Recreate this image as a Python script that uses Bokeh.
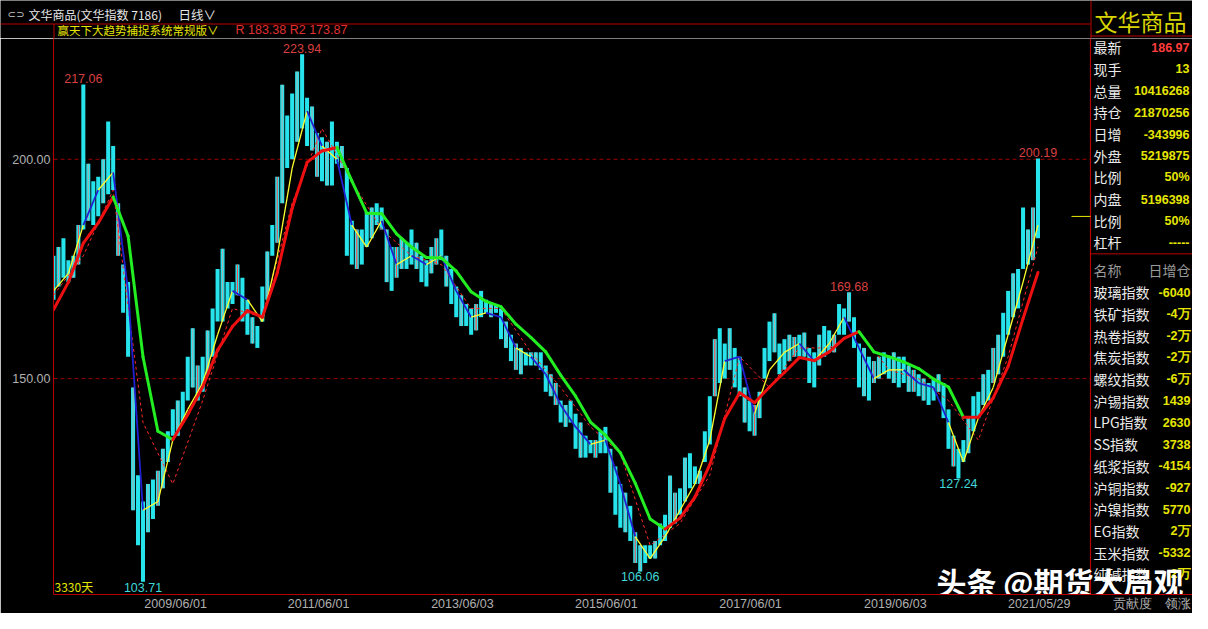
from bokeh.plotting import figure
from bokeh.models import Range1d, FixedTicker, NumeralTickFormatter, Label
from bokeh.layouts import row, column
from bokeh.embed import file_html
from bokeh.resources import INLINE
from bokeh.core.properties import value

CJK = "Noto Sans CJK SC"
NUM = "Liberation Sans"

# ---------------- data ----------------
title_name = "文华商品(文华指数 7186)"
period_name = "日线∨"
system_name = "赢天下大趋势捕捉系统常规版∨"
r_text = "R 183.38  R2 173.87"
days_text = "3330天"
watermark = "头条 @期货大局观"

STEP = 16  # trading days between sampled bars
highs = [178, 180, 182, 177, 178, 185, 217.06, 199, 195, 196,
         200, 208.6, 203, 190, 176, 172, 148, 128, 122, 126,
         127, 129, 134, 138, 143, 145, 147, 155, 161.5, 153,
         155, 161, 166, 175, 179.6, 172, 172, 176, 173, 168,
         164, 162, 171, 179, 185, 196, 217, 210, 215, 220,
         223.94, 214, 212, 206, 205, 204, 208.6, 204, 203, 198,
         186, 184, 184, 188, 189, 190, 189, 184, 180, 180,
         182, 181, 184, 181, 178, 177, 180, 182, 184, 178,
         175, 171, 169, 167, 166, 167, 170, 168, 167, 167,
         166, 163, 160, 158, 157, 156, 156, 156, 156, 153,
         151, 149, 145, 144, 145, 142, 140, 137, 136, 136,
         138, 139, 134, 130, 126, 124, 121, 115, 112, 112,
         112, 113, 117, 119, 127.9, 124, 125, 132, 133, 130,
         129, 138, 146, 159, 161.5, 158, 161.5, 157, 155, 148,
         145, 144, 147, 157, 163, 164.9, 158, 159, 160, 159.5,
         160, 160.5, 157, 156, 160, 162, 161, 160, 167, 166,
         169.68, 164, 158, 157, 155, 154, 155, 156, 155, 156,
         155, 155, 153, 152, 151, 150, 149, 150, 151, 149,
         143, 137, 134, 136, 141, 146, 147, 151, 152, 157,
         160, 165, 170, 174, 175, 189, 184, 189, 200.19]
lows = [168, 171, 173, 172, 173, 176, 184, 186, 185, 187,
        190, 192, 193, 178, 165, 155, 120, 112, 103.71, 115,
        118, 121, 125, 131, 137, 137, 140, 145, 148, 145,
        147, 151, 155, 163, 163, 166, 167, 169, 163, 160,
        158, 157, 163, 168, 178, 181, 190, 198, 200, 204,
        207, 203, 202, 196, 195, 194, 194, 199, 198, 178,
        176, 175, 176, 180, 182, 185, 184, 172, 170, 173,
        175, 175, 176, 175, 172, 171, 174, 176, 177, 171,
        167, 164, 162, 162, 160, 161, 164, 165, 164, 165,
        159, 157, 154, 152, 151, 153, 153, 153, 152, 147,
        146, 144, 140, 139, 140, 134, 132, 132, 133, 132,
        133, 133, 124, 119, 116, 115, 113, 108, 106.06, 108,
        109, 109, 112, 113, 116, 117, 119, 122, 125, 126,
        126, 131, 135, 146, 149, 150, 152, 148, 146, 140,
        138, 137, 141, 150, 154, 156, 151, 152, 154, 155,
        155, 155, 149, 148, 153, 155, 156, 156, 160, 160,
        163, 157, 148, 146, 145, 149, 150, 151, 150, 149,
        148, 149, 147, 147, 146, 145, 144, 145, 147, 141,
        134, 130, 127.24, 131, 133, 138, 141, 144, 145, 149,
        151, 155, 160, 164, 166, 175, 176, 177, 182]
last_close = 186.97

# thick trend line, one point every 3 sampled bars; u = rising (red), d = falling (green)
trend_vals = [165.7, 172.0, 180.9, 185.5, 191.4, 182.5, 155.0, 138.0, 136.1, 141.8,
              148.1, 156.5, 161.9, 165.5, 164.0, 174.1, 188.8, 199.3, 201.9, 202.7,
              195.1, 187.7, 187.6, 183.0, 180.0, 177.6, 177.5, 174.5, 169.8, 167.6,
              166.4, 162.4, 159.4, 156.1, 150.8, 146.0, 140.1, 137.1, 133.1, 126.2,
              118.0, 115.7, 118.2, 123.0, 130.4, 140.9, 146.8, 144.5, 148.1, 151.4,
              154.8, 154.1, 156.1, 159.2, 160.7, 156.1, 155.0, 153.8, 152.3, 149.9,
              148.1, 141.2, 141.2, 145.6, 152.8, 163.7, 174.2]
trend_state = "u" * 5 + "d" * 4 + "u" * 11 + "d" * 22 + "u" * 13 + "d" * 7 + "u" * 5

# fast line (yellow when rising, blue when falling), every 3 sampled bars
fast_vals = [170, 174, 185, 193, 197, 170, 120, 122, 136, 143,
             149, 160, 170, 168, 163, 178, 198, 211, 203, 200,
             185, 180, 186, 176, 178, 176, 178, 170, 164, 165,
             164, 157, 155, 151, 144, 139, 135, 136, 126, 114,
             109, 114, 120, 126, 136, 154, 155, 142, 152, 156,
             158, 154, 158, 164, 157, 150, 152, 152, 149, 148,
             140, 131, 141, 148, 160, 172, 185]
fast_state = "uuududduuu" "uuuduuuudu" "duudududdu" "dduddddudd" "uuuuuudduu" "uduudduudd" "duuuuuu"

# red dashed average, every 6 sampled bars
slow_vals = [169, 178, 193, 140, 126, 145, 166, 164, 190, 207,
             195, 184, 178, 176, 166, 166, 156, 148, 139, 133,
             112, 117, 128, 155, 148, 157, 157, 161, 152, 150,
             145, 136, 155, 180]

tick_days = [393, 853, 1316, 1779, 2243, 2709, 3172]
tick_labels = ["2009/06/01", "2011/06/01", "2013/06/03", "2015/06/01",
               "2017/06/01", "2019/06/03", "2021/05/29"]
price_ticks = [150, 200]

peak_bars = [6, 50, 160, 198]
trough_bars = [18, 118, 182]

quote_title = "文华商品"
quote_labels = ["最新", "现手", "总量", "持仓", "日增", "外盘", "比例", "内盘", "比例", "杠杆"]
quote_values = ["186.97", "13", "10416268", "21870256", "-343996", "5219875", "50%", "5196398", "50%", "-----"]
list_header = ["名称", "日增仓"]
list_names = ["玻璃指数", "铁矿指数", "热卷指数", "焦炭指数", "螺纹指数", "沪锡指数", "LPG指数",
              "SS指数", "纸浆指数", "沪铜指数", "沪镍指数", "EG指数", "玉米指数", "纯碱指数"]
list_values = ["-6040", "-4万", "-2万", "-2万", "-6万", "1439", "2630", "3738", "-4154",
               "-927", "5770", "2万", "-5332", "2万"]
tab_names = ["贡献度", "领涨"]

# ---------------- styling / layout ----------------
RED = "#b80000"
BG = "black"
bar_days = [i * STEP for i in range(len(highs))]
trend_days = bar_days[::3]
slow_days = bar_days[::6]

W = 1192
TOTAL_H = 613
HDR_H = 38
CHART_END = 3337           # day at the chart's right border (x = 1090 px)
PX_PER_DAY = 1037 / CHART_END
X_END = (W - 53) / PX_PER_DAY
Y0 = 100.8
PX_PER_VAL = 573 / 129.9
Y1 = 230.7 - (HDR_H - 24) / PX_PER_VAL


def m(ref_y):
    # reference-pixel y -> canvas y
    if ref_y < 26:
        return ref_y * 24 / 26
    if ref_y <= 604:
        return 24 + (ref_y - 26) * 573 / 578
    return 597 + (ref_y - 604) * 16 / 25


def dx(ref_x):
    return (ref_x - 53) / PX_PER_DAY


def cv(canvas_y):
    return Y1 - (canvas_y - HDR_H) / PX_PER_VAL


def vy(ref_y):
    return cv(m(ref_y))


def base_fig(w, h, xr, yr, **kw):
    f = figure(width=w, height=h, x_range=xr, y_range=yr, output_backend="svg",
               toolbar_location=None, **kw)
    f.background_fill_color = BG
    f.border_fill_color = BG
    f.outline_line_color = None
    f.min_border = 0
    return f


# ---------- header strip (top of chart and of quote panel) ----------
hdr = base_fig(W, HDR_H, Range1d(0, W), Range1d(HDR_H, 0),
               x_axis_location=None, y_axis_location=None)
hdr.grid.visible = False
hdr.text(x=[7], y=[m(15)], text=["⊂⊃"], text_font=value("DejaVu Sans"), text_font_size="10px",
         text_color="#c8c8c8", text_baseline="middle")
hdr.text(x=[28], y=[m(15)], text=[title_name], text_font=value(CJK), text_font_size="12px",
         text_color="#e6e6e6", text_baseline="middle")
hdr.text(x=[178], y=[m(15)], text=[period_name], text_font=value(CJK), text_font_size="12.5px",
         text_color="#e6e6e6", text_baseline="middle")
hdr.segment(x0=[0], y0=[23.5], x1=[1090], y1=[23.5], line_color=RED, line_width=1)
hdr.segment(x0=[53.5, 1090.5], y0=[23.5, 0], x1=[53.5, 1090.5], y1=[HDR_H, HDR_H],
            line_color=RED, line_width=1)
hdr.text(x=[57], y=[m(32)], text=[system_name], text_font=value(CJK), text_font_size="11.5px",
         text_color="#e6e600", text_baseline="middle")
hdr.text(x=[235], y=[m(32)], text=[r_text], text_font=value(NUM), text_font_size="12.5px",
         text_color="#e03030", text_baseline="middle")
hdr.text(x=[1094], y=[m(22)], text=[quote_title], text_font=value(CJK), text_font_size="23px",
         text_color="#d8d400", text_baseline="middle")
hdr.segment(x0=[1090], y0=[round(m(37)) + 0.5], x1=[W], y1=[round(m(37)) + 0.5], line_color=RED, line_width=1)

# ---------- main chart (frame also hosts the quote panel on the right) ----------
p = base_fig(W, TOTAL_H - HDR_H, Range1d(0, X_END), Range1d(Y0, Y1))
p.min_border_left = 53
p.min_border_right = 0
p.min_border_top = 0
p.min_border_bottom = 16
p.grid.visible = False

# date ticks plus the two panel tabs, which sit on the same bottom strip
tab_days = [dx(1132), dx(1177)]
p.xaxis.ticker = FixedTicker(ticks=tick_days + tab_days)
overrides = {d: t for d, t in zip(tick_days, tick_labels)}
overrides.update({d: t for d, t in zip(tab_days, tab_names)})
p.xaxis.major_label_overrides = overrides
p.yaxis.ticker = FixedTicker(ticks=price_ticks)
p.yaxis.formatter = NumeralTickFormatter(format="0.00")
for ax in (p.xaxis[0], p.yaxis[0]):
    ax.axis_line_color = RED
    ax.axis_line_width = 1
    ax.major_tick_line_color = None
    ax.minor_tick_line_color = None
    ax.major_tick_out = 0
    ax.major_tick_in = 0
    ax.minor_tick_out = 0
    ax.minor_tick_in = 0
    ax.major_label_text_color = "#b0b0b0"
    ax.major_label_text_font = NUM
    ax.major_label_text_font_size = "12.5px"
p.xaxis.major_label_standoff = 2
p.yaxis.major_label_standoff = 3

# dashed price levels across the chart area only
p.segment(x0=[0] * len(price_ticks), y0=price_ticks, x1=[CHART_END] * len(price_ticks), y1=price_ticks,
          line_color="#9a0000", line_width=1, line_dash="4 3")
# border between chart and quote panel
p.segment(x0=[CHART_END], y0=[Y0], x1=[CHART_END], y1=[Y1], line_color=RED, line_width=1.2)

# price bars
p.vbar(x=bar_days, bottom=lows, top=highs, width=13, fill_color="#27e3ec", line_color=None)
gx = [d for i, d in enumerate(bar_days) if i % 3 == 1]
gl = [v for i, v in enumerate(lows) if i % 3 == 1]
gh = [v for i, v in enumerate(highs) if i % 3 == 1]
p.segment(x0=gx, y0=gl, x1=gx, y1=gh, line_color="#a9b0b0", line_width=1)
rx = [d for i, d in enumerate(bar_days) if i % 8 == 5]
rl = [v for i, v in enumerate(lows) if i % 8 == 5]
rh = [v for i, v in enumerate(highs) if i % 8 == 5]
p.segment(x0=rx, y0=rl, x1=rx, y1=rh, line_color="#ff4a4a", line_width=1)

# red dashed average
p.line(slow_days, slow_vals, line_color="#ff2a2a", line_width=1, line_dash="3 3")

# fast line
for k in range(1, len(fast_vals)):
    up = fast_state[k] == "u"
    p.segment(x0=[trend_days[k - 1]], y0=[fast_vals[k - 1]], x1=[trend_days[k]], y1=[fast_vals[k]],
              line_color="#ffff30" if up else "#2020d0", line_width=1.3 if up else 1.8)

# thick trend line
for k in range(1, len(trend_vals)):
    col = "#ee1010" if trend_state[k] == "u" else "#22ee22"
    p.segment(x0=[trend_days[k - 1]], y0=[trend_vals[k - 1]], x1=[trend_days[k]], y1=[trend_vals[k]],
              line_color=col, line_width=3, line_cap="round")

# last price marker
p.segment(x0=[dx(1071)], y0=[last_close], x1=[CHART_END], y1=[last_close], line_color="#e8e800", line_width=1)

# extreme labels
for b in peak_bars:
    p.add_layout(Label(x=bar_days[b], y=highs[b], text=f"{highs[b]:.2f}", text_align="center",
                       text_baseline="bottom", text_color="#d84040", text_font=NUM,
                       text_font_size="12.5px", y_offset=1))
for b in trough_bars:
    p.add_layout(Label(x=bar_days[b], y=lows[b], text=f"{lows[b]:.2f}", text_align="center",
                       text_baseline="top", text_color="#40d8d8", text_font=NUM,
                       text_font_size="12.5px", y_offset=-1))
p.add_layout(Label(x=dx(54), y=vy(596), text=days_text, text_baseline="middle",
                   text_color="#e6e600", text_font=CJK, text_font_size="12px"))


# ---- quote panel (inside the same frame, right of the chart) ----
def px(panel_x):
    return dx(1090 + panel_x)


qy = [vy(49 + 22 * k) for k in range(len(quote_labels))]
p.text(x=[px(3)] * len(qy), y=qy, text=quote_labels, text_font=value(CJK), text_font_size="14px",
       text_color="#eaeaea", text_baseline="middle")
qcol = ["#ff3c3c"] + ["#e6e600"] * (len(quote_values) - 1)
p.text(x=[px(99)] * len(qy), y=qy, text=quote_values, text_font=value(NUM), text_font_size="12.5px",
       text_font_style="bold", text_color=qcol, text_align="right", text_baseline="middle")
p.segment(x0=[CHART_END], y0=[cv(round(m(258)) + 0.5)], x1=[X_END], y1=[cv(round(m(258)) + 0.5)],
          line_color=RED, line_width=1)
p.text(x=[px(3)], y=[vy(275)], text=[list_header[0]], text_font=value(CJK), text_font_size="14px",
       text_color="#9a9a9a", text_baseline="middle")
p.text(x=[px(100)], y=[vy(275)], text=[list_header[1]], text_font=value(CJK), text_font_size="14px",
       text_color="#9a9a9a", text_baseline="middle", text_align="right")
ly = [vy(297.5 + 22 * k) for k in range(len(list_names))]
p.text(x=[px(3)] * len(ly), y=ly, text=list_names, text_font=value(CJK), text_font_size="14px",
       text_color="#eaeaea", text_baseline="middle")
p.text(x=[px(100)] * len(ly), y=ly, text=list_values, text_font=value(NUM), text_font_size="12.5px",
       text_font_style="bold", text_color="#e6e600", text_align="right", text_baseline="middle")

# watermark across chart and panel
p.text(x=[dx(936)], y=[cv(583)], text=[watermark], text_font=value(CJK), text_font_size="30px",
       text_font_style="bold", text_color="white", text_baseline="middle")

layout = column(row(hdr), p)

open("out.html", "w").write(file_html(layout, INLINE))
